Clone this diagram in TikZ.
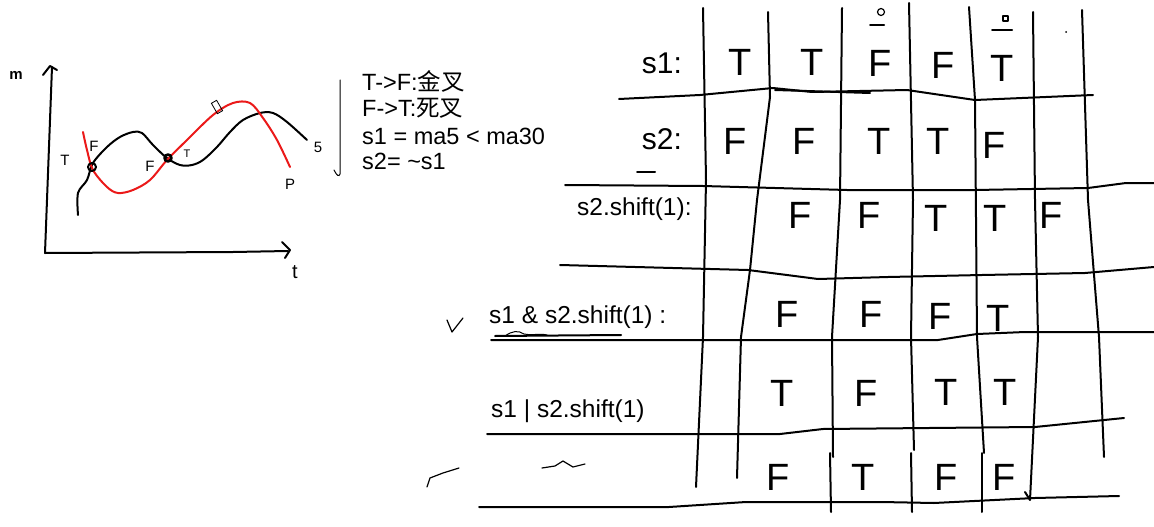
\documentclass[tikz,border=0pt]{standalone}
\usepackage{fontspec}
\setmainfont{Liberation Sans}
\newfontfamily\cjk{Noto Sans CJK SC}
\definecolor{penred}{RGB}{235,25,25}
\begin{document}
\begin{tikzpicture}[x=1pt,y=-1pt,
  ink/.style={line width=2pt, line cap=round, line join=round},
  redink/.style={ink, draw=penred},
  hand/.style={font=\fontsize{38}{38}\selectfont, inner sep=0pt},
  small/.style={font=\fontsize{15}{15}\selectfont, inner sep=0pt},
  typed/.style={font=\fontsize{24.5}{26}\selectfont, inner sep=0pt, anchor=base west},
  notes/.style={font=\fontsize{23.5}{26}\selectfont, inner sep=0pt, anchor=base west}]
\fill[white] (0,0) rectangle (1154,527);
\useasboundingbox (0,0) rectangle (1154,527);

% ---------------- graph ----------------
\draw[ink] (45,253) -- (52,67);
\draw[ink] (43,75) -- (50,66) -- (57,70);
\draw[ink] (45,253) -- (233,252) -- (288,251);
\draw[ink] (282,242) -- (290,250) -- (285,258);
\node[small,font=\bfseries\fontsize{15}{15}\selectfont] (ylab) at (16,75) {m};
\node[small,font=\fontsize{20}{20}\selectfont] (xlab) at (295,272) {t};

\draw[ink] plot[smooth,tension=0.55] coordinates {(78,215) (78,193) (87,180) (93,163) (107,147) (120,137) (133,132) (142,133) (153,145) (167,158) (180,165) (192,165) (203,160) (217,147) (230,132) (243,120) (260,113) (273,113) (287,122) (307,140)};
\draw[redink] plot[smooth,tension=0.55] coordinates {(83,132) (87,150) (93,170) (107,187) (118,193) (133,190) (150,180) (167,160) (187,140) (213,115) (233,103) (250,103) (263,118) (277,140) (290,167)};

\draw[ink] (92,167) circle (4);
\draw[ink,line width=2.6pt] (168,158) circle (3.5);
\draw[line width=0.8pt,rotate around={30:(217,107)}] (214,101) rectangle (220,113);

\node[small] (lF1) at (94,146) {F};
\node[small] (lT1) at (65,160) {T};
\node[small] (lF2) at (150,166) {F};
\node[small,font=\fontsize{11}{11}\selectfont] (lT2) at (187,154) {T};
\node[small] (lS) at (318,147) {5};
\node[small] (lP) at (290,184) {P};

% ---------------- notes ----------------
\draw[line width=1pt, line cap=round] (340,80) -- (340,174) .. controls (339,177) and (337,176) .. (334,170);
\node[notes] (n1) at (362,91) {T->F:{\cjk 金叉}};
\node[notes] (n2) at (362,117) {F->T:{\cjk 死叉}};
\node[notes] (n3) at (362,144) {s1 = ma5 < ma30};
\node[notes] (n4) at (362,169) {s2= \textasciitilde s1};

% ---------------- grid: vertical lines ----------------
\draw[ink] (703,8) -- (706,180) -- (703,337) -- (696,487);
\draw[ink] (768,12) -- (770,97) -- (757,200) -- (750,270) -- (741,337) -- (737,478);
\draw[ink] (842,8) -- (840,200) -- (832,337) -- (833,457);
\draw[ink] (830,453) -- (831,512);
\draw[ink] (909,3) -- (913,200) -- (911,337) -- (914,450);
\draw[ink] (911,453) -- (912,512);
\draw[ink] (969,7) -- (975,100) -- (977,337) -- (984,453);
\draw[ink] (982,453) -- (982,512);
\draw[ink] (1033,12) -- (1035,200) -- (1038,337) -- (1030,500) -- (1025,492);
\draw[ink] (1082,10) -- (1088,200) -- (1099,337) -- (1104,457);

% ---------------- grid: horizontal lines ----------------
\draw[ink] (619,99) -- (700,95) -- (773,88) -- (812,92) -- (907,90) -- (975,100) -- (1093,95);
\draw[ink] (775,90) -- (870,93);
\draw[ink] (565,185) -- (703,186) -- (847,190) -- (975,190) -- (1088,188) -- (1126,183) -- (1154,183);
\draw[ink] (560,265) -- (748,270) -- (818,279) -- (888,277) -- (982,275) -- (1085,273) -- (1154,267);
\draw[ink] (491,340) -- (938,340) -- (977,334) -- (1025,332) -- (1154,332);
\draw[ink] (495,336) -- (621,335);
\draw[ink,line width=1pt] (505,336) .. controls (512,331) and (518,330) .. (524,334) .. controls (531,336) and (539,333) .. (547,335);
\draw[ink] (487,434) -- (780,434) -- (823,429) -- (929,428) -- (1035,427) -- (1124,418);
\draw[ink] (479,507) -- (669,507) -- (746,502) -- (881,502) -- (934,503) -- (1035,498) -- (1119,496);

% ---------------- row labels ----------------
\node[font=\fontsize{30}{30}\selectfont, inner sep=0pt] (r1) at (662,63) {s1:};
\node[font=\fontsize{30}{30}\selectfont, inner sep=0pt] (r2) at (662,139) {s2:};
\draw[ink] (637,172) -- (655,172);
\node[typed] (r3) at (577,215) {s2.shift(1):};
\node[typed] (r4) at (489,323) {s1 \& s2.shift(1) :};
\node[typed] (r5) at (491,417) {s1 | s2.shift(1)};

% check marks and caret
\draw[ink,line width=1.2pt] (447,320) -- (452,332) -- (463,318);
\draw[ink,line width=1.2pt] (427,487) -- (430,478) -- (443,473) -- (459,468);
\draw[ink,line width=1.2pt] (542,468) -- (555,466) -- (563,461) -- (573,467) -- (585,464);

% ---------------- cell entries ----------------
\node[hand] (a1) at (740,62) {T};
\node[hand] (a2) at (812,62) {T};
\node[hand] (a3) at (880,63) {F};
\node[hand] (a4) at (943,65) {F};
\node[hand] (a5) at (1002,68) {T};
\draw[ink] (870,25) -- (884,25);
\draw[ink,line width=1.2pt] (881,12) circle (3.5);
\draw[ink] (992,30) -- (1012,30);
\draw[ink,line width=1.2pt] (1003,16) rectangle (1008,21);
\fill (1066,32) circle (1);

\node[hand] (b1) at (735,141) {F};
\node[hand] (b2) at (804,141) {F};
\node[hand] (b3) at (879,141) {T};
\node[hand] (b4) at (938,141) {T};
\node[hand] (b5) at (994,145) {F};

\node[hand] (c1) at (800,215) {F};
\node[hand] (c2) at (869,215) {F};
\node[hand] (c3) at (936,218) {T};
\node[hand] (c4) at (995,218) {T};
\node[hand] (c5) at (1051,215) {F};

\node[hand] (d1) at (787,314) {F};
\node[hand] (d2) at (871,314) {F};
\node[hand] (d3) at (940,316) {F};
\node[hand] (d4) at (998,318) {T};

\node[hand] (e1) at (782,393) {T};
\node[hand] (e2) at (866,393) {F};
\node[hand] (e3) at (946,392) {T};
\node[hand] (e4) at (1005,392) {T};

\node[hand] (f1) at (778,477) {F};
\node[hand] (f2) at (863,477) {T};
\node[hand] (f3) at (946,477) {F};
\node[hand] (f4) at (1004,477) {F};
\end{tikzpicture}
\end{document}
